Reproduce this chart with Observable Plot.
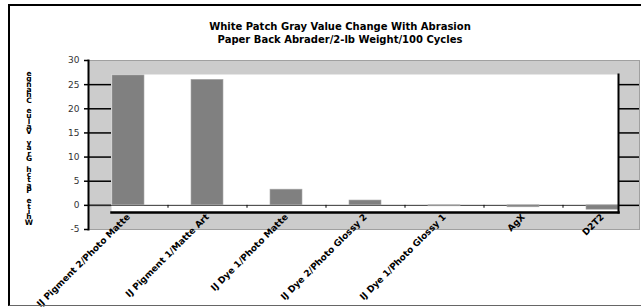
<!DOCTYPE html>
<html><head><meta charset="utf-8">
<script src="https://cdn.jsdelivr.net/npm/d3@7"></script>
<script src="https://cdn.jsdelivr.net/npm/@observablehq/plot@0.6"></script>
<style>
body{margin:0;background:#fff;}
#wrap{position:relative;width:641px;height:308px;overflow:hidden;font-family:"DejaVu Sans",Verdana,sans-serif;}
#wrap svg{position:absolute;left:0;top:0;}
#border{position:absolute;left:8px;top:4px;width:640px;height:299px;border-top:2px solid #000;border-left:2px solid #000;border-bottom:1px solid #666;pointer-events:none;}
#title{position:absolute;left:90px;width:500px;top:20px;text-align:center;font-weight:bold;font-size:10px;line-height:13px;color:#000;}
#ytitle{position:absolute;left:24px;width:10px;bottom:83px;display:flex;flex-direction:column-reverse;align-items:center;font-weight:bold;font-size:7.5px;color:#000;}
#ytitle span{display:block;height:5.32px;line-height:5.32px;}
</style>
</head><body>
<div id="wrap">
<div id="chart"></div>
<div id="border"></div>
<div id="title"></div>
<div id="ytitle"></div>
</div>
<script>
const titleLines = ["White Patch Gray Value Change With Abrasion", "Paper Back Abrader/2-lb Weight/100 Cycles"];
const yTitle = "White Patch Gray Value Change";
const categories = ["IJ Pigment 2/Photo Matte", "IJ Pigment 1/Matte Art", "IJ Dye 1/Photo Matte", "IJ Dye 2/Photo Glossy 2", "IJ Dye 1/Photo Glossy 1", "AgX", "D2T2"];
const values = [26.9, 26.0, 3.25, 1.0, -0.2, -0.4, -0.9];
const yTicks = [-5, 0, 5, 10, 15, 20, 25, 30];
const gridTicks = [0, 5, 10, 15, 20, 25];

const data = categories.map((c, i) => ({category: c, value: values[i]}));

const W = 641, H = 308, mL = 88, mR = 2, mT = 60, mB = 79;
const plotW = W - mL - mR;

const chart = Plot.plot({
  width: W, height: H,
  marginLeft: mL, marginRight: mR, marginTop: mT, marginBottom: mB,
  style: {background: "transparent", fontFamily: "'DejaVu Sans', Verdana, sans-serif"},
  x: {type: "band", domain: categories, range: [88, 641], paddingInner: 0.6, paddingOuter: 0.3, axis: null},
  y: {domain: [-5, 30], axis: null},
  marks: [
    Plot.frame({fill: "#cccccc", stroke: "#a0a0a0", strokeWidth: 1}),
    Plot.frame({fill: "#ffffff", stroke: "none", insetLeft: 23, insetTop: 14, insetRight: 21, insetBottom: 17}),
    Plot.ruleY(gridTicks, {stroke: "#000", strokeWidth: 1.5, insetRight: plotW - 23}),
    Plot.ruleY(gridTicks, {stroke: "#000", strokeWidth: 1.5, insetLeft: plotW - 21}),
    Plot.ruleY([0], {stroke: "#333", strokeWidth: 1, insetRight: 21}),
    Plot.ruleX(categories.slice(0, 6), {x: d => d, y1: 0, y2: -0.6, dx: 39.5, stroke: "#000", strokeWidth: 1}),
    Plot.barY(data, {x: "category", y: "value", fill: "#808080", stroke: "#a8a8a8", strokeWidth: 0.6}),
    Plot.frame({anchor: "left", stroke: "#000", strokeWidth: 2}),
    Plot.frame({anchor: "right", stroke: "#000", strokeWidth: 2, insetTop: 14, insetBottom: 17, insetRight: 21}),
    Plot.frame({anchor: "bottom", stroke: "#000", strokeWidth: 2.5, insetLeft: 23, insetBottom: 17, insetRight: 21}),
    Plot.axisY({ticks: yTicks, label: null, tickSize: 4, tickPadding: 5, fontSize: 9, stroke: "#000", strokeWidth: 1.5, fill: "#333", tickFormat: d => String(d)}),
    Plot.text(categories, {x: d => d, frameAnchor: "bottom", dy: -12, dx: 2, rotate: -45, textAnchor: "end", fontSize: 9, fontWeight: "bold", fill: "#000", text: d => d})
  ]
});
document.getElementById("chart").appendChild(chart);

const t = document.getElementById("title");
titleLines.forEach(l => { const d = document.createElement("div"); d.textContent = l; t.appendChild(d); });
const yt = document.getElementById("ytitle");
for (const ch of yTitle) { const s = document.createElement("span"); s.textContent = ch; yt.appendChild(s); }
</script>
</body></html>
